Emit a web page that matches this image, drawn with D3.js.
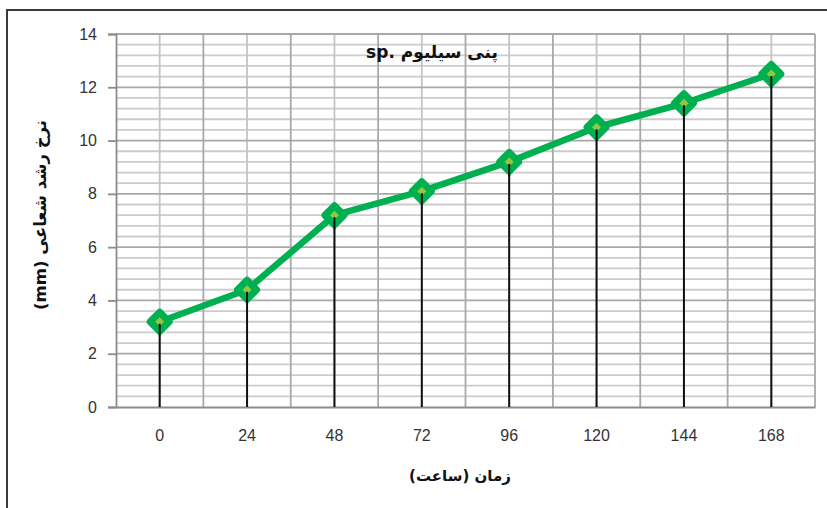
<!DOCTYPE html>
<html>
<head>
<meta charset="utf-8">
<script src="https://cdn.jsdelivr.net/npm/d3@7"></script>
<style>
  html, body { margin: 0; padding: 0; background: #fff; }
  svg { display: block; }
</style>
</head>
<body>
<svg id="chart" width="827" height="508"></svg>
<script>
const categories = ["0", "24", "48", "72", "96", "120", "144", "168"];
const values = [3.2, 4.4, 7.2, 8.1, 9.2, 10.5, 11.4, 12.5];
const yTicks = [0, 2, 4, 6, 8, 10, 12, 14];
const titleText = "sp. پنی سیلیوم";
const xTitle = "زمان (ساعت)";
const yTitle = "نرخ رشد شعاعی (mm)";

const svg = d3.select("#chart");
const W = 827, H = 508;
const m = { left: 116, right: 815, top: 34, bottom: 407 };

// outer frame
svg.append("path")
  .attr("d", `M7,${H} L7,10 L${W},10`)
  .attr("fill", "none").attr("stroke", "#3a3a3a").attr("stroke-width", 2);

const x = d3.scaleBand().domain(categories).range([m.left, m.right]).padding(0);
const y = d3.scaleLinear().domain([0, 14]).range([m.bottom, m.top]);

const g = svg.append("g");

// minor horizontal grid (every 0.4)
const minor = d3.range(0, 14.001, 0.4).filter(v => Math.abs(v / 2 - Math.round(v / 2)) > 0.01);
g.selectAll(".hminor").data(minor).enter().append("line")
  .attr("x1", m.left).attr("x2", m.right)
  .attr("y1", d => y(d)).attr("y2", d => y(d))
  .attr("stroke", "#cccccc").attr("stroke-width", 1.8);

// vertical grid: category centers (lighter) and boundaries (darker)
g.selectAll(".vc").data(categories).enter().append("line")
  .attr("x1", d => x(d) + x.bandwidth() / 2).attr("x2", d => x(d) + x.bandwidth() / 2)
  .attr("y1", m.top).attr("y2", m.bottom)
  .attr("stroke", "#c4c4c4").attr("stroke-width", 1.8);
g.selectAll(".vb").data(categories.slice(1)).enter().append("line")
  .attr("x1", d => x(d)).attr("x2", d => x(d))
  .attr("y1", m.top).attr("y2", m.bottom)
  .attr("stroke", "#a8a8a8").attr("stroke-width", 1.8);

// major horizontal grid
g.selectAll(".hmajor").data(yTicks.slice(1)).enter().append("line")
  .attr("x1", m.left).attr("x2", m.right)
  .attr("y1", d => y(d)).attr("y2", d => y(d))
  .attr("stroke", "#a8a8a8").attr("stroke-width", 1.8);

// right border
g.append("line").attr("x1", m.right).attr("x2", m.right).attr("y1", m.top).attr("y2", m.bottom)
  .attr("stroke", "#a8a8a8").attr("stroke-width", 1.8);

// y axis
const yAxis = d3.axisLeft(y).tickValues(yTicks).tickSize(8).tickPadding(11);
const ya = svg.append("g").attr("transform", `translate(${m.left},0)`).call(yAxis);
ya.select(".domain").attr("stroke", "#8c8c8c").attr("stroke-width", 1.8);
ya.selectAll(".tick line").attr("stroke", "#8c8c8c").attr("stroke-width", 1.8);
ya.selectAll(".tick text").attr("font-family", "Liberation Sans, Arial, sans-serif")
  .attr("font-size", 16).attr("fill", "#333");

// x axis
const xAxis = d3.axisBottom(x).tickSize(0).tickPadding(23);
const xa = svg.append("g").attr("transform", `translate(0,${m.bottom})`).call(xAxis);
xa.select(".domain").attr("stroke", "#8c8c8c").attr("stroke-width", 1.8);
xa.selectAll(".tick text").attr("font-family", "Liberation Sans, Arial, sans-serif")
  .attr("font-size", 16).attr("fill", "#333");

const cx = d => x(d) + x.bandwidth() / 2;

// drop lines
svg.selectAll(".drop").data(values).enter().append("line")
  .attr("x1", (d, i) => cx(categories[i])).attr("x2", (d, i) => cx(categories[i]))
  .attr("y1", d => y(d)).attr("y2", y(0))
  .attr("stroke", "#111").attr("stroke-width", 2);

// line
const line = d3.line().x((d, i) => cx(categories[i])).y(d => y(d));
svg.append("path").datum(values).attr("d", line)
  .attr("fill", "none").attr("stroke", "#00b050").attr("stroke-width", 6.5)
  .attr("stroke-linejoin", "round");

// markers
const diamond = d3.symbol().type(d3.symbolDiamond2).size(230);
svg.selectAll(".mk").data(values).enter().append("path")
  .attr("d", diamond)
  .attr("transform", (d, i) => `translate(${cx(categories[i])},${y(d)})`)
  .attr("fill", "#92c83e").attr("stroke", "#00b050").attr("stroke-width", 7)
  .attr("stroke-linejoin", "round");
// drop line top part over marker (visible center stroke)
svg.selectAll(".drop2").data(values).enter().append("line")
  .attr("x1", (d, i) => cx(categories[i])).attr("x2", (d, i) => cx(categories[i]))
  .attr("y1", d => y(d) + 2).attr("y2", d => y(d) + 14)
  .attr("stroke", "#111").attr("stroke-width", 2);

// title
svg.append("text").attr("x", 432).attr("y", 58).attr("text-anchor", "middle")
  .attr("direction", "ltr")
  .attr("font-family", "DejaVu Sans, sans-serif").attr("font-weight", "bold").attr("font-size", 17)
  .attr("fill", "#111").text(titleText);

// x title
svg.append("text").attr("x", 460).attr("y", 481).attr("text-anchor", "middle")
  .attr("direction", "rtl")
  .attr("font-family", "DejaVu Sans, sans-serif").attr("font-weight", "bold").attr("font-size", 15)
  .attr("fill", "#111").text(xTitle);

// y title
svg.append("text").attr("transform", "translate(46,215) rotate(-90)").attr("text-anchor", "middle")
  .attr("direction", "rtl")
  .attr("font-family", "DejaVu Sans, sans-serif").attr("font-weight", "bold").attr("font-size", 16.5)
  .attr("fill", "#111").text(yTitle);
</script>
</body>
</html>
